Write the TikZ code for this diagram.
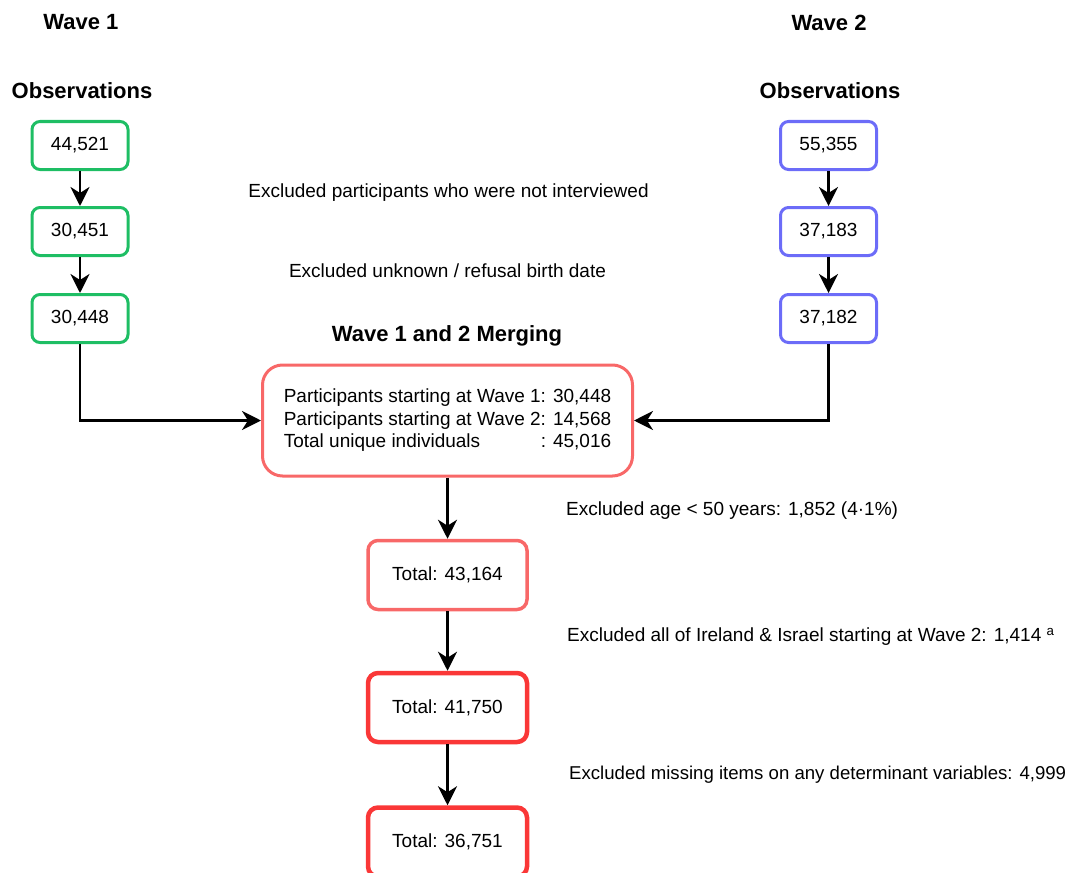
\documentclass[tikz,border=0pt]{standalone}
\usepackage{fontspec}
\setmainfont{Liberation Sans}
\usetikzlibrary{arrows.meta}
\definecolor{wgreen}{RGB}{30,190,100}
\definecolor{wblue}{RGB}{108,108,248}
\definecolor{lred}{RGB}{248,104,104}
\definecolor{dred}{RGB}{250,55,55}
\begin{document}
\begin{tikzpicture}[x=1pt,y=-1pt,
  every node/.style={font=\fontsize{19}{22.5}\selectfont, inner sep=0pt},
  ttl/.style={font=\fontsize{22}{24}\selectfont\bfseries},
  obox/.style={draw, rounded corners=8pt, line width=3pt, minimum width=96pt, minimum height=48pt},
  gbox/.style={obox, draw=wgreen},
  bbox/.style={obox, draw=wblue},
  tbox/.style={draw, rounded corners=10pt, minimum width=159pt, minimum height=69pt},
  arr/.style={line width=2.6pt, -{Stealth[length=19pt,width=19pt,inset=6pt]}},
  lbl/.style={anchor=west}]
\useasboundingbox (0,0) rectangle (1075,872);
% titles
\node[ttl] (tw1) at (81,22) {Wave 1};
\node[ttl] (to1) at (82,91) {Observations};
\node[ttl] (tw2) at (829,23) {Wave 2};
\node[ttl] (to2) at (830,91) {Observations};
\node[ttl] (tm) at (447,336) {Wave 1 and 2 Merging};
% wave 1 boxes
\node[gbox] (a1) at (80,145.5) {44,521};
\node[gbox] (a2) at (80,231.5) {30,451};
\node[gbox] (a3) at (80,318.5) {30,448};
% wave 2 boxes
\node[bbox] (b1) at (828.5,145.5) {55,355};
\node[bbox] (b2) at (828.5,231.5) {37,183};
\node[bbox] (b3) at (828.5,318.5) {37,182};
% exclusion labels top
\node (e1) at (448.5,193) {Excluded participants who were not interviewed};
\node (e2) at (447.5,271) {Excluded unknown / refusal birth date};
% merge box
\node[draw=lred, line width=3pt, rounded corners=20pt, minimum width=370pt, minimum height=111pt] (m) at (447.5,420.5)
  {\begin{tabular}{@{}c@{}}
   Participants starting at Wave 1: 30,448\\
   Participants starting at Wave 2: 14,568\\
   Total unique individuals\hfill: 45,016
   \end{tabular}};
% totals
\node[tbox, draw=lred, line width=3.5pt] (t1) at (447.5,575) {Total: 43,164};
\node[tbox, draw=dred, line width=4.5pt] (t2) at (447.5,707.5) {Total: 41,750};
\node[tbox, draw=dred, line width=4.5pt] (t3) at (447.5,842) {Total: 36,751};
% exclusion labels bottom
\node[lbl] (e3) at (566,511) {Excluded age < 50 years: 1,852 (4·1\%)};
\node[lbl] (e4) at (567,637) {Excluded all of Ireland \& Israel starting at Wave 2: 1,414 \textsuperscript{a}};
\node[lbl, font=\fontsize{18.6}{22}\selectfont] (e5) at (569,775) {Excluded missing items on any determinant variables: 4,999};
% connectors
\draw[arr] (a1) -- (a2);
\draw[arr] (a2) -- (a3);
\draw[arr] (b1) -- (b2);
\draw[arr] (b2) -- (b3);
\draw[arr] (a3.south) |- (m.west);
\draw[arr] (b3.south) |- (m.east);
\draw[arr] (m) -- (t1);
\draw[arr] (t1) -- (t2);
\draw[arr] (t2) -- (t3);
\end{tikzpicture}
\end{document}
